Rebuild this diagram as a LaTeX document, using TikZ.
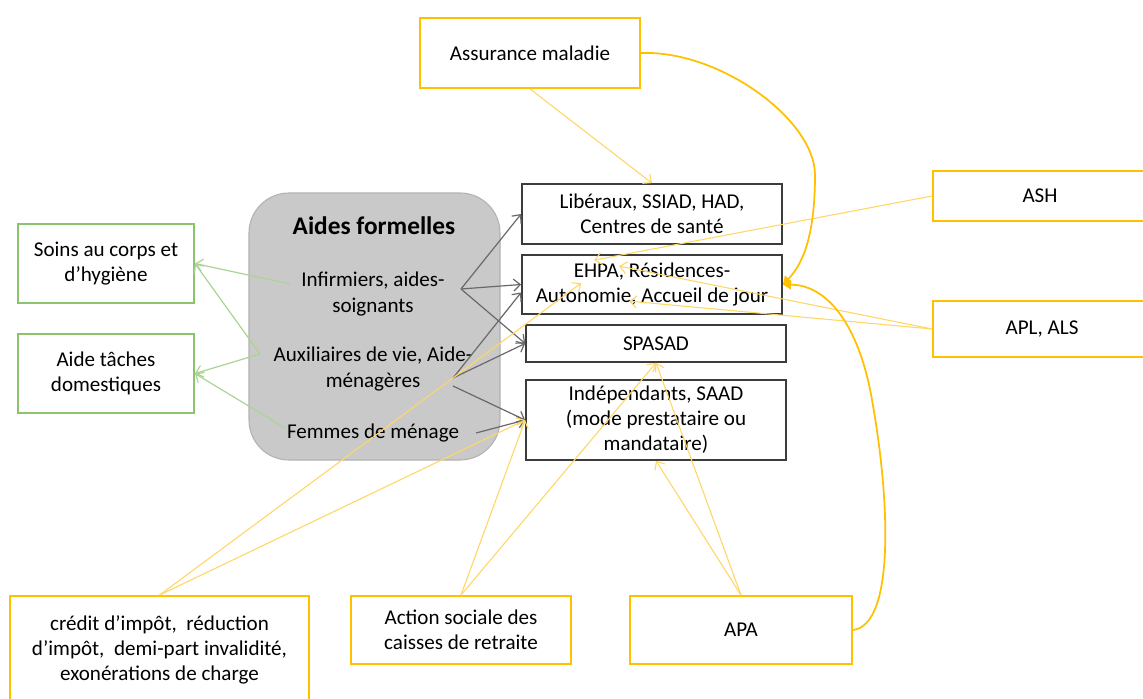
\documentclass[tikz,border=0pt]{standalone}
\usepackage{fontspec}
\setmainfont{Carlito}
\usetikzlibrary{arrows.meta,calc}
\definecolor{ybox}{RGB}{255,192,0}
\definecolor{yline}{RGB}{255,215,100}
\definecolor{gbox}{RGB}{140,196,110}
\definecolor{gline}{RGB}{172,212,148}
\definecolor{kline}{RGB}{105,105,105}
\definecolor{kbox}{RGB}{60,60,60}
\definecolor{greyfill}{RGB}{201,201,201}
\definecolor{greydraw}{RGB}{178,178,178}
\begin{document}
\begin{tikzpicture}[x=0.75pt,y=-0.75pt,
  every node/.style={font=\fontsize{15.8pt}{18.8pt}\selectfont, align=center, inner sep=0pt},
  kbx/.style={draw=kbox, line width=1.3pt, fill=white},
  ybx/.style={draw=ybox, line width=1.4pt, fill=white},
  gbx/.style={draw=gbox, line width=1.4pt, fill=white},
  greybox/.style={draw=greydraw, line width=0.8pt, fill=greyfill, rounded corners=30pt},
  karrow/.style={draw=kline, line width=0.9pt, -{Straight Barb[length=5pt,width=9pt]}},
  garrow/.style={draw=gline, line width=0.9pt, -{Straight Barb[length=5pt,width=9pt]}},
  yarrow/.style={draw=yline, line width=0.8pt, -{Straight Barb[length=5pt,width=9pt]}},
  ycurve/.style={draw=ybox, line width=1.3pt, -{Triangle[length=6pt,width=7pt]}}]
\clip (0,0) rectangle (1143,699);
\fill[white] (0,0) rectangle (1143,699);

% grey block
\node[greybox, minimum width=188.25pt, minimum height=200.25pt] (grey) at (374.5,326.5) {};
\node[font=\fontsize{19pt}{23pt}\selectfont\bfseries] (title) at (374,226) {Aides formelles};
\node (inf) at (373,294) {Infirmiers, aides-\\soignants};
\node (aux) at (373,369) {Auxiliaires de vie, Aide-\\ménagères};
\node (fem) at (373,433) {Femmes de ménage};

% black boxes
\node[kbx, minimum width=195pt, minimum height=45pt] (lib) at (652,214) {Libéraux, SSIAD, HAD,\\Centres de santé};
\node[kbx, minimum width=195pt, minimum height=44.25pt] (ehpa) at (652,284.5) {EHPA, Résidences-\\Autonomie, Accueil de jour};
\node[kbx, minimum width=195pt, minimum height=27.75pt] (spasad) at (656,343.5) {SPASAD};
\node[kbx, minimum width=195pt, minimum height=60pt] (indep) at (656,420) {Indépendants, SAAD\\(mode prestataire ou\\mandataire)};

% green boxes
\node[gbx, minimum width=132pt, minimum height=59.25pt] (soins) at (106,263.5) {Soins au corps et\\d’hygiène};
\node[gbx, minimum width=132pt, minimum height=59.25pt] (aide) at (106,373.5) {Aide tâches\\domestiques};

% yellow boxes
\node[ybx, minimum width=165pt, minimum height=52.5pt] (assur) at (530,53) {Assurance maladie};
\node[ybx, minimum width=160.5pt, minimum height=37.5pt] (ash) at (1040,196) {ASH};
\node[ybx, minimum width=163.5pt, minimum height=42pt] (apl) at (1042,329) {APL, ALS};
\node[ybx, minimum width=224.25pt, minimum height=81pt] (credit) at (159.5,650) {crédit d’impôt,\ \ réduction\\d’impôt,\ \ demi-part\ invalidité,\\exonérations de charge};
\node[ybx, minimum width=165pt, minimum height=51pt] (action) at (461,630) {Action sociale des\\caisses de retraite};
\node[ybx, minimum width=166.5pt, minimum height=51pt] (apa) at (741,630) {APA};

% connector ends
\coordinate (infK) at (461,289);
\coordinate (auxK1) at (453,378);
\coordinate (auxK2) at (453,386);
\coordinate (femK) at (476,433);
\coordinate (infG) at (290,284);
\coordinate (auxG) at (260,354);
\coordinate (femG) at (285,428);
\coordinate (ehpaA) at ($(ehpa.west)+(0,8)$);
\coordinate (ehpaASH) at ($(ehpa.north west)+(73,6)$);
\coordinate (ehpaAPL1) at ($(ehpa.north west)+(98,12)$);
\coordinate (ehpaAPL2) at ($(ehpa.north west)+(108,47)$);
\coordinate (ehpaCR) at ($(ehpa.north west)+(60,29)$);

% grey connectors
\draw[karrow] (infK) -- (lib.west);
\draw[karrow] (infK) -- (ehpa.west);
\draw[karrow] (infK) -- (spasad.west);
\draw[karrow] (auxK1) -- (ehpaA);
\draw[karrow] (auxK1) -- (spasad.west);
\draw[karrow] (auxK2) -- (indep.west);
\draw[karrow] (femK) -- (indep.west);

% green connectors
\draw[garrow] (infG) -- (soins.east);
\draw[garrow] (auxG) -- (soins.east);
\draw[garrow] (auxG) -- (aide.east);
\draw[garrow] (femG) -- (aide.east);

% yellow connectors
\draw[yarrow] (assur.south) -- (lib.north);
\draw[yarrow] (ash.west) -- (ehpaASH);
\draw[yarrow] (apl.west) -- (ehpaAPL1);
\draw[yarrow] (apl.west) -- (ehpaAPL2);
\draw[yarrow] (credit.north) -- (ehpaCR);
\draw[yarrow] (credit.north) -- (indep.west);
\draw[yarrow] (action.north) -- (spasad.south);
\draw[yarrow] (action.north) -- (indep.west);
\draw[yarrow] (apa.north) -- (spasad.south);
\draw[yarrow] (apa.north) -- (indep.south);

% thick curves
\draw[ycurve] (assur.east) .. controls (720,50) and (815,120) .. (815,175) .. controls (815,230) and (805,262) .. (ehpa.east);
\draw[ycurve] (apa.east) .. controls (895,625) and (890,500) .. (872,400) .. controls (860,330) and (830,285) .. (ehpa.east);
\end{tikzpicture}
\end{document}
